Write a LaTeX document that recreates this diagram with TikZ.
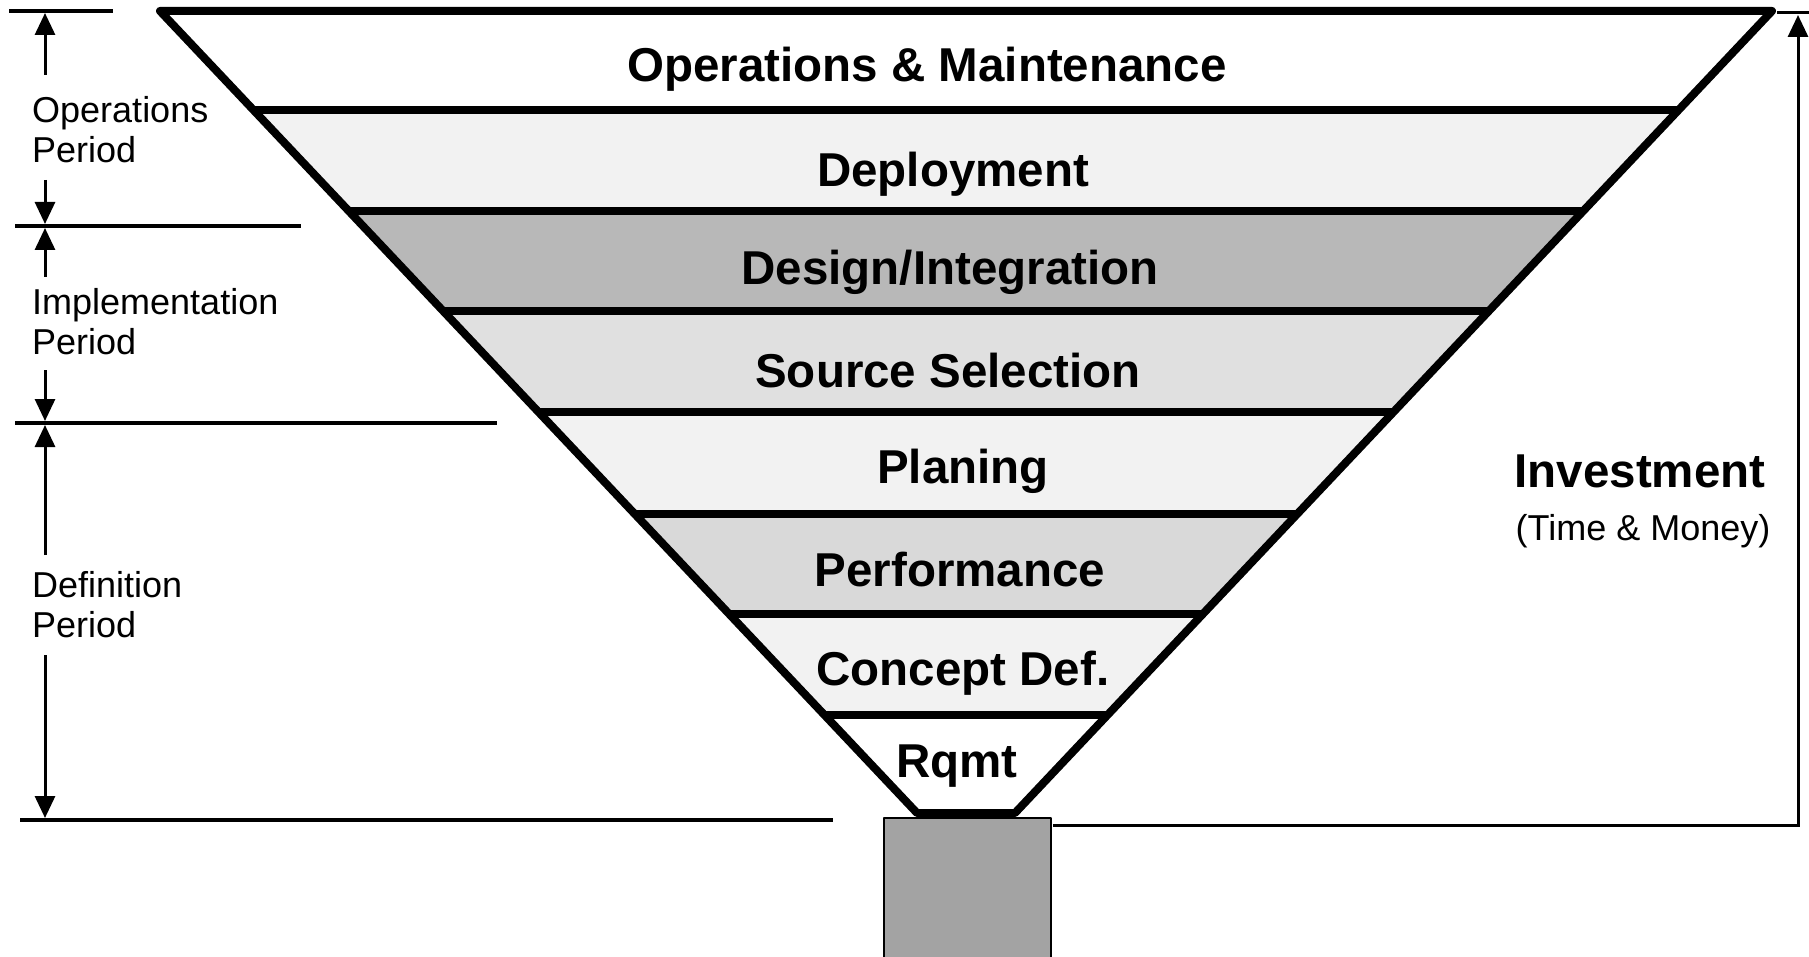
\documentclass[tikz,border=0pt]{standalone}
\usepackage{fontspec}
\setmainfont{Liberation Sans}
\usepackage{xcolor}
\definecolor{bandw}{gray}{1.00}
\definecolor{bandl}{gray}{0.95}
\definecolor{bandm}{gray}{0.88}
\definecolor{bandp}{gray}{0.85}
\definecolor{bandd}{gray}{0.72}
\definecolor{stemc}{gray}{0.64}
\usetikzlibrary{arrows.meta,calc}

\begin{document}
\begin{tikzpicture}[
  x=1pt, y=-1pt, >={Triangle[length=22pt,width=20pt]}, line join=round,
  edge/.style={line width=8pt},
  ruler/.style={line width=4pt},
  span/.style={->, line width=3pt},
  band/.style={font=\fontsize{47.5}{50}\selectfont\bfseries, anchor=base, inner sep=0pt},
  phase/.style={font=\fontsize{36}{40}\selectfont, anchor=base west, align=left, inner sep=0pt},
  note/.style={font=\fontsize{36}{40}\selectfont, anchor=base, inner sep=0pt},
  stem/.style={rectangle, draw, line width=2pt, fill=stemc, minimum width=167pt, minimum height=150pt, anchor=north},
]
  \useasboundingbox (0,0) rectangle (1809,957);

  % funnel corners
  \coordinate (tl) at (160,11);
  \coordinate (tr) at (1772,11);
  \coordinate (bl) at (917,813);
  \coordinate (br) at (1015,813);

  % band fills
  \foreach \ya/\yb/\col [evaluate=\ya as \ta using (\ya-11)/802, evaluate=\yb as \tb using (\yb-11)/802]
    in {11/110/bandw, 110/211/bandl, 211/311/bandd, 311/412/bandm, 412/514/bandl, 514/614/bandp, 614/715/bandl, 715/813/bandw}
    \fill[fill=\col] ($(tl)!\ta!(bl)$) -- ($(tr)!\ta!(br)$) -- ($(tr)!\tb!(br)$) -- ($(tl)!\tb!(bl)$) -- cycle;

  % band borders
  \foreach \y [evaluate=\y as \t using (\y-11)/802] in {110,211,311,412,514,614,715}
    \draw[edge] ($(tl)!\t!(bl)$) -- ($(tr)!\t!(br)$);
  \draw[edge] (tl) -- (tr) -- (br) -- (bl) -- cycle;

  \node[band] (om) at (927,82) {Operations \& Maintenance};
  \node[band] (dep) at (953,187) {Deployment};
  \node[band] (des) at (950,285) {Design/Integration};
  \node[band] (src) at (948,387) {Source Selection};
  \node[band] (pln) at (963,483) {Planing};
  \node[band] (prf) at (960,586) {Performance};
  \node[band] (cpt) at (963,685) {Concept Def.};
  \node[band] (rqm) at (957,777) {Rqmt};

  \node[stem] (stem) at (967.5,817) {};

  % period rulers
  \draw[ruler] (9,11) -- (113,11);
  \draw[ruler] (15,226) -- (301,226);
  \draw[ruler] (15,423) -- (497,423);
  \draw[ruler] (20,820) -- (833,820);

  % periods (base = last line)
  \node[phase] (ops) at (32,163) {Operations\\Period};
  \node[phase] (imp) at (32,355) {Implementation\\Period};
  \node[phase] (def) at (32,637) {Definition\\Period};
  \draw[span] (45,75) -- (45,13);
  \draw[span] (45,180) -- (45,224);
  \draw[span] (45,277) -- (45,228);
  \draw[span] (45,370) -- (45,421);
  \draw[span] (45,555) -- (45,425);
  \draw[span] (45,655) -- (45,818);

  % investment
  \node[band] (inv) at (1640,487) {Investment};
  \node[note] (tm) at (1643,540) {(Time \& Money)};
  \draw[line width=3pt] (1777,13) -- (1809,13);
  \draw[span, line join=miter] ($(stem.north east)+(1,8)$) -- (1798,825) -- (1798,15);
\end{tikzpicture}
\end{document}
